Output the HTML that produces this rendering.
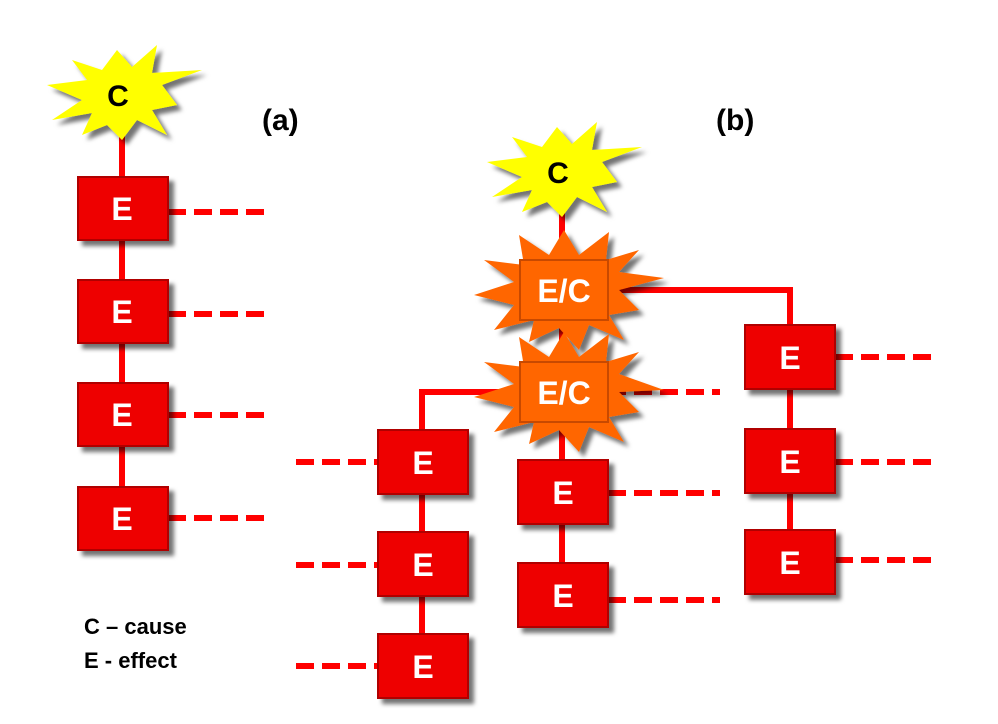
<!DOCTYPE html>
<html><head><meta charset="utf-8"><style>
body{margin:0;background:#fff;width:998px;height:724px;overflow:hidden}
svg{display:block}
text{font-family:"Liberation Sans",Arial,sans-serif;font-weight:bold}
</style></head><body>
<svg width="998" height="724" viewBox="0 0 998 724">
<defs>
<filter id="sh" x="-20%" y="-20%" width="150%" height="150%"><feDropShadow dx="5" dy="5" stdDeviation="2" flood-color="#000" flood-opacity="0.55"/></filter>
</defs>
<g stroke="#f00" stroke-width="6" fill="none">
<!-- (a) -->
<line x1="122" y1="110" x2="122" y2="520"/>
<g stroke-dasharray="18,8"><line x1="168" y1="212" x2="272" y2="212"/><line x1="168" y1="314" x2="272" y2="314"/><line x1="168" y1="415" x2="272" y2="415"/><line x1="168" y1="518" x2="272" y2="518"/></g>
<!-- (b) -->
<line x1="562" y1="180" x2="562" y2="595"/>
<polyline points="608,290 790,290 790,560"/>
<polyline points="520,392 422,392 422,665"/>
<g stroke-dasharray="18,8">
<line x1="835" y1="357" x2="935" y2="357"/><line x1="835" y1="462" x2="935" y2="462"/><line x1="835" y1="560" x2="935" y2="560"/>
<line x1="296" y1="462" x2="378" y2="462"/><line x1="296" y1="565" x2="378" y2="565"/><line x1="296" y1="666" x2="378" y2="666"/>
<line x1="608" y1="392" x2="720" y2="392"/><line x1="608" y1="493" x2="720" y2="493"/><line x1="608" y1="600" x2="720" y2="600"/>
</g>
</g>
<!-- yellow stars -->
<g fill="#ffff00" filter="url(#sh)">
<polygon transform="translate(122,95)" points="80,-25 40,-10 55,10 30,15 45,40 15,25 0,45 -15,30 -40,40 -30,18 -70,25 -40,5 -75,-10 -35,-15 -50,-35 -20,-25 -5,-45 10,-28 35,-50 30,-22"/>
<polygon transform="translate(562,172)" points="80,-25 40,-10 55,10 30,15 45,40 15,25 0,45 -15,30 -40,40 -30,18 -70,25 -40,5 -75,-10 -35,-15 -50,-35 -20,-25 -5,-45 10,-28 35,-50 30,-22"/>
</g>
<text x="118" y="106" font-size="30" text-anchor="middle">C</text>
<text x="558" y="183" font-size="30" text-anchor="middle">C</text>
<!-- orange stars -->
<g fill="#ff6600" filter="url(#sh)">
<polygon transform="translate(564,290)" points="100,-12 55,0 75,20 45,25 60,50 25,35 15,60 -5,38 -35,52 -30,30 -70,40 -50,15 -90,5 -50,-8 -80,-30 -40,-25 -45,-55 -15,-35 0,-60 15,-35 45,-58 42,-30 75,-40 55,-18"/>
<polygon transform="translate(564,392)" points="100,-2 55,0 75,20 45,25 60,50 25,35 15,60 -5,38 -35,52 -30,30 -70,40 -50,15 -90,5 -50,-8 -80,-30 -40,-25 -45,-55 -15,-35 0,-60 15,-35 45,-58 42,-30 75,-40 55,-18"/>
<rect x="520" y="260" width="88" height="60" stroke="#c84a00" stroke-width="2"/>
<rect x="520" y="362" width="88" height="60" stroke="#c84a00" stroke-width="2"/>
</g>
<g fill="#fff" font-size="32" text-anchor="middle">
<text x="564" y="302">E/C</text><text x="564" y="404">E/C</text>
</g>
<!-- E boxes -->
<g fill="#ee0000" stroke="#b00000" stroke-width="2" filter="url(#sh)">
<rect x="78" y="177" width="90" height="63"/><rect x="78" y="280" width="90" height="63"/><rect x="78" y="383" width="90" height="63"/><rect x="78" y="487" width="90" height="63"/>
<rect x="745" y="325" width="90" height="64"/><rect x="745" y="429" width="90" height="64"/><rect x="745" y="530" width="90" height="64"/>
<rect x="378" y="430" width="90" height="64"/><rect x="378" y="532" width="90" height="64"/><rect x="378" y="634" width="90" height="64"/>
<rect x="518" y="460" width="90" height="64"/><rect x="518" y="563" width="90" height="64"/>
</g>
<g fill="#fff" font-size="32" text-anchor="middle">
<text x="122" y="220">E</text><text x="122" y="323">E</text><text x="122" y="426">E</text><text x="122" y="530">E</text>
<text x="790" y="369">E</text><text x="790" y="473">E</text><text x="790" y="574">E</text>
<text x="423" y="474">E</text><text x="423" y="576">E</text><text x="423" y="678">E</text>
<text x="563" y="504">E</text><text x="563" y="607">E</text>
</g>
<g fill="#000" font-size="30">
<text x="262" y="130">(a)</text><text x="716" y="130">(b)</text>
</g>
<g fill="#000" font-size="22">
<text x="84" y="634">C – cause</text><text x="84" y="668">E - effect</text>
</g>
</svg>
</body></html>
